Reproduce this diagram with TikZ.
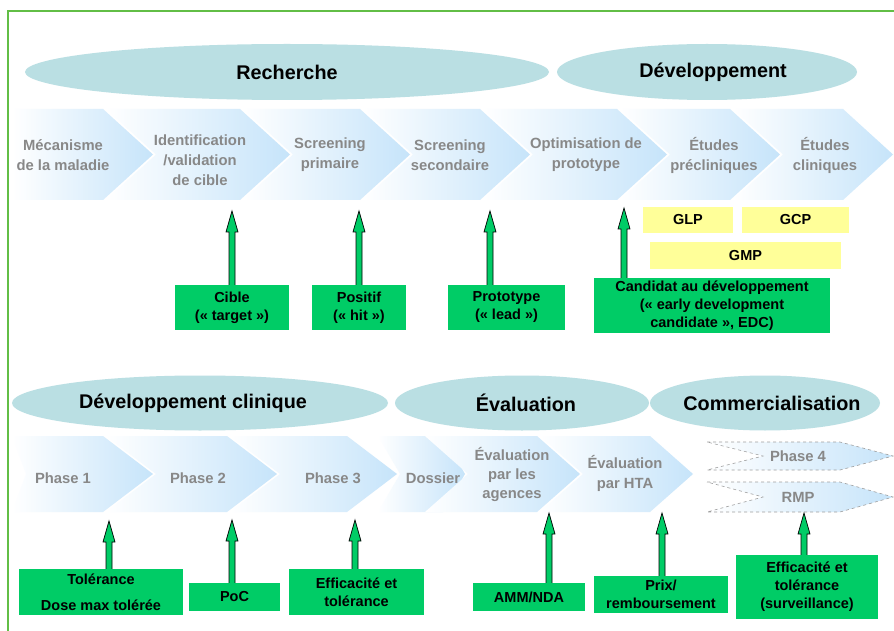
\documentclass[tikz,border=0pt]{standalone}
\usepackage{fontspec}
\setmainfont{Liberation Sans}
\usetikzlibrary{shapes.geometric,calc}
\definecolor{ellc}{RGB}{186,223,227}
\definecolor{chevb}{RGB}{198,228,250}
\definecolor{chevt}{RGB}{136,136,136}
\definecolor{boxg}{RGB}{0,204,102}
\definecolor{yel}{RGB}{255,255,153}
\definecolor{bord}{RGB}{98,190,70}
\tikzset{
 phase/.style={ellipse, fill=ellc, inner sep=0pt, outer sep=0pt},
 phasetext/.style={inner sep=0pt, font=\fontsize{19.8}{22}\selectfont\bfseries},
 chevtext/.style={text=chevt, align=center, font=\fontsize{14.8}{20}\selectfont\bfseries, inner sep=0pt},
 chevfill/.style={left color=white, right color=chevb},
 milestone/.style={fill=boxg, align=center, inner sep=0pt, font=\fontsize{14.5}{18}\selectfont\bfseries},
 gxp/.style={fill=yel, inner sep=0pt, font=\fontsize{14.5}{16}\selectfont\bfseries},
 uparrow/.style={fill=boxg, draw=black, line width=0.7pt, line join=miter},
 dashchev/.style={draw=gray!75, dashed, line width=0.6pt},
}
% x0, notch, slant, tip, ytop, ybot
\newcommand{\mychev}[6]{%
 \shade[chevfill] (#1,#5) -- ({#4-#3},#5) -- (#4,{(#5+#6)/2}) -- ({#4-#3},#6) -- (#1,#6) -- ({#1+#2},{(#5+#6)/2}) -- cycle;}
\newcommand{\mydchev}[6]{%
 \shadedraw[chevfill,dashchev] (#1,#5) -- ({#4-#3},#5) -- (#4,{(#5+#6)/2}) -- ({#4-#3},#6) -- (#1,#6) -- ({#1+#2},{(#5+#6)/2}) -- cycle;}
% box name, x, ytip
\newcommand{\upar}[3]{%
 \coordinate (#1tip) at (#2,#3);
 \filldraw[uparrow] ($(#1tip |- #1.north)+(-3,0)$) -- ($(#1tip)+(-3,21)$) -- ($(#1tip)+(-6,21)$) -- (#1tip) -- ($(#1tip)+(6,21)$) -- ($(#1tip)+(3,21)$) -- ($(#1tip |- #1.north)+(3,0)$);}
\begin{document}
\begin{tikzpicture}[x=1pt,y=-1pt]
\useasboundingbox (0,0) rectangle (894,631);
\fill[white] (0,0) rectangle (894,631);
\draw[bord, line width=2pt] (8,631) -- (8,11) -- (894,11);

% phase ellipses, top
\node[phase, minimum width=524, minimum height=56] (rech) at (287,72) {};
\node[phase, minimum width=300, minimum height=56] (dev) at (707,72) {};
\node[phasetext] (rechT) at (287,72) {Recherche};
\node[phasetext] (devT) at (713,72) {Développement};

% top chevrons
\mychev{12}{0}{50}{153}{109}{200}
\mychev{106}{50}{50}{290}{109}{200}
\mychev{243}{50}{50}{410}{109}{200}
\mychev{363}{50}{50}{530}{109}{200}
\mychev{483}{50}{50}{667}{109}{200}
\mychev{620}{50}{50}{780}{109}{200}
\mychev{733}{50}{50}{893}{109}{200}
\node[chevtext] (c1) at (63,155) {Mécanisme\\de la maladie};
\node[chevtext] (c2) at (200,160) {Identification\\/validation\\de cible};
\node[chevtext] (c3) at (330,155) {Screening\\primaire};
\node[chevtext] (c4) at (450,155) {Screening\\secondaire};
\node[chevtext] (c5) at (586,155) {Optimisation de\\prototype};
\node[chevtext] (c6) at (714,155) {Études\\précliniques};
\node[chevtext] (c7) at (825,155) {Études\\cliniques};

% GxP boxes
\node[gxp, minimum width=90, minimum height=26] (glp) at (688,220) {GLP};
\node[gxp, minimum width=107, minimum height=26] (gcp) at (795.5,220) {GCP};
\node[gxp, minimum width=191, minimum height=27] (gmp) at (745.5,255.5) {GMP};

% top milestones
\node[milestone, minimum width=114, minimum height=45] (cible) at (232,307.5) {Cible\\(« target »)};
\node[milestone, minimum width=94, minimum height=45] (positif) at (359,307.5) {Positif\\(« hit »)};
\node[milestone, minimum width=117, minimum height=45] (proto) at (506.5,307.5) {Prototype\\(« lead »)};
\node[milestone, minimum width=236, minimum height=55] (edc) at (712,305.5) {Candidat au développement\\(« early development\\candidate », EDC)};
\upar{cible}{232}{211}
\upar{positif}{359}{211}
\upar{proto}{490}{211}
\upar{edc}{624}{208}

% phase ellipses, bottom
\node[phase, minimum width=376, minimum height=55] (devc) at (200,403) {};
\node[phase, minimum width=254, minimum height=55] (eval) at (522,403) {};
\node[phase, minimum width=230, minimum height=55] (comm) at (765,403) {};
\node[phasetext] (devcT) at (193,403) {Développement clinique};
\node[phasetext] (evalT) at (526,403) {Évaluation};
\node[phasetext] (commT) at (772,403) {Commercialisation};

% bottom chevrons
\mychev{12}{14}{50}{153}{436}{512}
\mychev{106}{50}{50}{277}{436}{512}
\mychev{230}{50}{50}{397}{436}{512}
\mychev{378}{22}{22}{465}{436}{512}
\mychev{425}{43}{43}{580}{436}{512}
\mychev{540}{43}{43}{693}{436}{512}
\mydchev{707}{56}{53}{893}{442}{470}
\mydchev{707}{56}{53}{893}{482}{512}
\node[chevtext] (p1) at (63,478) {Phase 1};
\node[chevtext] (p2) at (198,478) {Phase 2};
\node[chevtext] (p3) at (333,478) {Phase 3};
\node[chevtext] (dos) at (433,478) {Dossier};
\node[chevtext, font=\fontsize{14.8}{19}\selectfont\bfseries] (eva) at (512,475) {Évaluation\\par les\\agences};
\node[chevtext] (hta) at (625,473) {Évaluation\\par HTA};
\node[chevtext] (p4) at (798,456) {Phase 4};
\node[chevtext] (rmp) at (798,497) {RMP};

% bottom milestones
\node[milestone, minimum width=164, minimum height=46, font=\fontsize{14.5}{26}\selectfont\bfseries] (tol) at (101,592) {Tolérance\\Dose max tolérée};
\node[milestone, minimum width=91, minimum height=28] (poc) at (234.5,597) {PoC};
\node[milestone, minimum width=135, minimum height=46] (eff) at (356.5,592) {Efficacité et\\tolérance};
\node[milestone, minimum width=112, minimum height=28] (amm) at (529,597) {AMM/NDA};
\node[milestone, minimum width=134, minimum height=37] (prix) at (661,594.5) {Prix/\\remboursement};
\node[milestone, minimum width=142, minimum height=64] (surv) at (807,587) {Efficacité et\\tolérance\\(surveillance)};
\upar{tol}{109}{521}
\upar{poc}{232}{520}
\upar{eff}{355}{520}
\upar{amm}{549}{513}
\upar{prix}{662}{513}
\upar{surv}{804}{513}
\end{tikzpicture}
\end{document}
